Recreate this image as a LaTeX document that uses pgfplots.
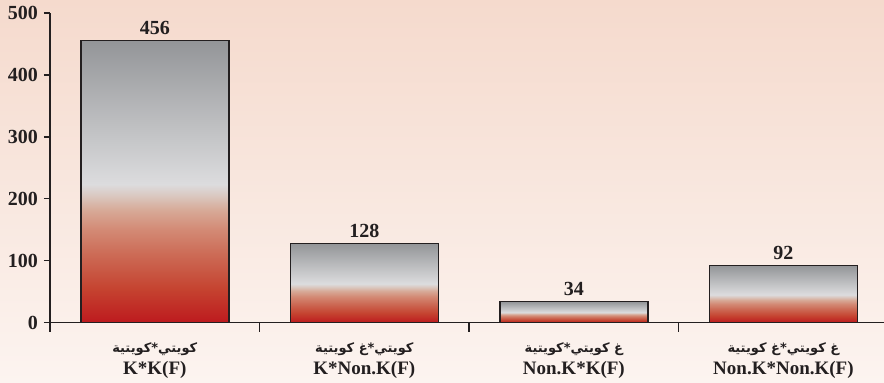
\documentclass[border=0pt]{standalone}
\usepackage{pgfplots}
\pgfplotsset{compat=1.18}
\usepackage{fontspec}
\setmainfont{Liberation Serif}
\newfontfamily\arabicfont[Script=Arabic]{DejaVu Sans}
\TeXXeTstate=1
\definecolor{bgtop}{HTML}{F5DACD}
\definecolor{bgbot}{HTML}{FCF4F0}
\definecolor{txt}{HTML}{231F20}
\definecolor{edge}{HTML}{231F20}
\definecolor{s0}{HTML}{BD1A1E}
\definecolor{s1}{HTML}{C54330}
\definecolor{s2}{HTML}{CC6A55}
\definecolor{s3}{HTML}{D38A75}
\definecolor{s4}{HTML}{D7AA98}
\definecolor{s5}{HTML}{DAC8C0}
\definecolor{s6}{HTML}{DCDCDE}
\definecolor{s7}{HTML}{BDBEC0}
\definecolor{s8}{HTML}{939598}
\pgfdeclareverticalshading{barshade}{100bp}{color(0bp)=(s0); color(25bp)=(s0); color(31bp)=(s1); color(37bp)=(s2); color(41.5bp)=(s3); color(45bp)=(s4); color(47.5bp)=(s5); color(49.5bp)=(s6); color(60.5bp)=(s7); color(75bp)=(s8); color(100bp)=(s8)}
\newcommand{\arf}{\arabicfont\bfseries\fontsize{13}{15}\selectfont}
\begin{document}
\begin{tikzpicture}
\fill[top color=bgtop, bottom color=bgbot] (0,0) rectangle (884pt,383pt);
\begin{axis}[
  at={(50pt,60.3pt)}, anchor=south west,
  scale only axis, width=834pt, height=309.7pt,
  xmin=-0.5, xmax=3.48, ymin=0, ymax=500,
  clip=false,
  axis x line=bottom, axis y line=left,
  axis line style={-, line width=1.3pt, draw=txt},
  y axis line style={shorten <=-9pt},
  ybar, bar width=0.7065,
  tick align=outside,
  xtick={0,1,2,3},
  xticklabels={
    {{\arf\beginR كويتي*كويتية\endR}\\K*K(F)},
    {{\arf\beginR كويتي*غ كويتية\endR}\\K*Non.K(F)},
    {{\arf\beginR غ كويتي*كويتية\endR}\\Non.K*K(F)},
    {{\arf\beginR غ كويتي*غ كويتية\endR}\\Non.K*Non.K(F)}},
  xticklabel style={align=center, font=\bfseries\fontsize{19}{22}\selectfont, text=txt, yshift=-10pt},
  xtick style={draw=none},
  minor xtick={0.5,1.5,2.5},
  minor x tick style={line width=1.3pt, draw=txt},
  minor tick length=9pt,
  ytick={0,100,200,300,400,500},
  ytick style={line width=1.3pt, draw=txt},
  major tick length=6pt,
  /pgf/number format/assume math mode=true,
  yticklabel style={font=\bfseries\fontsize{20}{22}\selectfont, text=txt, inner sep=2pt, xshift=-4pt},
  nodes near coords,
  every node near coord/.append style={font=\bfseries\fontsize{20}{22}\selectfont, text=txt, inner sep=5pt},
]
\addplot[bar shift=0pt, draw=edge, line width=1.5pt, shading=barshade] coordinates {(0,456)};
\addplot[bar shift=0pt, draw=edge, line width=1.5pt, shading=barshade] coordinates {(1,128)};
\addplot[bar shift=0pt, draw=edge, line width=1.5pt, shading=barshade] coordinates {(2,34)};
\addplot[bar shift=0pt, draw=edge, line width=1.5pt, shading=barshade] coordinates {(3,92)};
\end{axis}
\pgfresetboundingbox
\useasboundingbox (0,0) rectangle (884pt,383pt);
\end{tikzpicture}
\end{document}
